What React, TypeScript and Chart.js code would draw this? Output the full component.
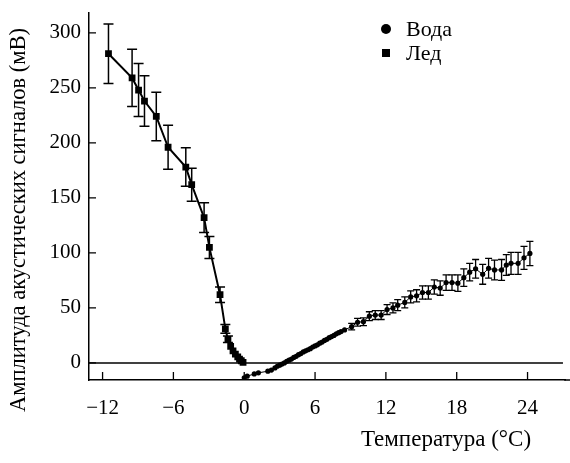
import React, { useEffect, useRef } from "react";
import { Chart, registerables } from "chart.js";

Chart.register(...registerables);

// Лед (ice)
const iceT = [-11.5, -9.5, -8.95, -8.45, -7.45, -6.45, -4.95, -4.45, -3.4, -2.95, -2.05, -1.6, -1.38, -1.15, -0.95, -0.75, -0.55, -0.4, -0.25, -0.1];
const iceAmp = [281, 259, 248, 238, 224, 196, 178, 162, 132, 105, 62, 31, 21.5, 15, 11, 8, 5.5, 3.5, 2, 0.5];
const iceErr = [27, 26, 24, 23, 22, 20, 17.5, 15, 13.5, 10, 7, 4, 3, 0, 0, 0, 0, 0, 0, 0];

// Вода (water)
const waterT = [0, 0.25, 0.85, 1.2, 2.0, 2.3, 2.6, 2.8, 3.0, 3.2, 3.4, 3.6, 3.8, 4.0, 4.2, 4.4, 4.6, 4.8, 5.0, 5.2, 5.4, 5.6, 5.8, 6.0, 6.2, 6.4, 6.6, 6.8, 7.0, 7.2, 7.4, 7.6, 7.8, 8.0, 8.2, 8.5,
  9.1, 9.6, 10.1, 10.6, 11.1, 11.6, 12.1, 12.6, 13.0, 13.6, 14.1, 14.6, 15.1, 15.6, 16.1, 16.6, 17.1, 17.6, 18.1, 18.6, 19.1, 19.6, 20.2, 20.7, 21.2, 21.8, 22.2, 22.6, 23.2, 23.7, 24.2];
const waterAmp = [-13.5, -12, -10, -9, -7.5, -6.5, -4.5, -3, -2, -1, 0, 1.5, 2.5, 3.5, 5, 6, 7.5, 8.5, 10, 11, 12, 13, 14.5, 15.5, 16.5, 18, 19, 20.5, 21.5, 23, 24, 25, 26.5, 27.5, 28.5, 30,
  33, 37, 37.5, 42.5, 43.5, 43.5, 48.5, 50, 52.5, 55, 60, 61, 64, 64, 69, 68, 73, 73, 72.5, 77.5, 82.5, 85.5, 80.5, 86, 84.5, 84.5, 89, 90.5, 90.5, 95.5, 99.5];
const waterErr = [0, 0, 0, 0, 0, 0, 0, 0, 0, 0, 0, 0, 0, 0, 0, 0, 0, 0, 0, 0, 0, 0, 0, 0, 0, 0, 0, 0, 0, 0, 0, 0, 0, 0, 0, 0,
  3, 3.5, 3.5, 4, 4, 4, 4.5, 4.5, 5, 5, 5.5, 5.5, 6, 6, 6.5, 6.5, 7, 7, 7.5, 8, 8, 8.5, 9, 9, 9, 9.5, 9.5, 10, 10, 10.5, 11];

const xTicks = [-12, -6, 0, 6, 12, 18, 24];
const yTicks = [0, 50, 100, 150, 200, 250, 300];

const xTitle = "Температура (°C)";
const yTitle = "Амплитуда акустических сигналов (мВ)";
const legendLabels = ["Вода", "Лед"];

const FONT = '"Liberation Serif"';

export default function App() {
  const ref = useRef<HTMLCanvasElement | null>(null);

  useEffect(() => {
    document.body.style.margin = "0";
    const canvas = ref.current;
    if (!canvas) return;
    let chart: any = null;
    let cancelled = false;

    const errs = [waterErr, iceErr];
    const capW = [3.5, 5];

    const errorBars = {
      id: "errorBars",
      afterDatasetsDraw(c: any) {
        const ctx = c.ctx;
        const xs = c.scales.x;
        const ys = c.scales.y;
        ctx.save();
        ctx.strokeStyle = "#000";
        c.data.datasets.forEach((ds: any, di: number) => {
          ctx.lineWidth = di === 1 ? 1.5 : 1.3;
          ds.data.forEach((p: any, i: number) => {
            const e = errs[di][i];
            if (!e) return;
            const x = xs.getPixelForValue(p.x);
            const yt = ys.getPixelForValue(p.y + e);
            const yb = ys.getPixelForValue(p.y - e);
            const w = capW[di];
            ctx.beginPath();
            ctx.moveTo(x, yt);
            ctx.lineTo(x, yb);
            ctx.moveTo(x - w, yt);
            ctx.lineTo(x + w, yt);
            ctx.moveTo(x - w, yb);
            ctx.lineTo(x + w, yb);
            ctx.stroke();
          });
        });
        ctx.restore();
      },
    };

    const decor = {
      id: "decor",
      afterDraw(c: any) {
        const ctx = c.ctx;
        const xs = c.scales.x;
        const ys = c.scales.y;
        const a = c.chartArea;
        ctx.save();
        ctx.strokeStyle = "#000";
        ctx.lineWidth = 1.5;
        // extend x axis line to the right edge
        ctx.beginPath();
        ctx.moveTo(a.right - 1, a.bottom);
        ctx.lineTo(c.width, a.bottom);
        ctx.stroke();
        // zero line
        const y0 = ys.getPixelForValue(0);
        ctx.beginPath();
        ctx.moveTo(a.left, y0);
        ctx.lineTo(xs.getPixelForValue(27), y0);
        ctx.stroke();
        // inward tick marks
        ctx.lineWidth = 1.3;
        ctx.beginPath();
        yTicks.forEach((v) => {
          const y = ys.getPixelForValue(v);
          ctx.moveTo(a.left, y);
          ctx.lineTo(a.left + 7, y);
        });
        xTicks.forEach((v) => {
          const x = xs.getPixelForValue(v);
          ctx.moveTo(x, a.bottom);
          ctx.lineTo(x, a.bottom - 8);
        });
        ctx.stroke();
        // axis titles
        ctx.fillStyle = "#000";
        ctx.font = `23px ${FONT}`;
        ctx.textAlign = "center";
        ctx.textBaseline = "middle";
        ctx.fillText(xTitle, 446, 440);
        ctx.font = `22.5px ${FONT}`;
        ctx.save();
        ctx.translate(19, 220);
        ctx.rotate(-Math.PI / 2);
        ctx.fillText(yTitle, 0, 0);
        ctx.restore();
        // legend
        ctx.font = `22px ${FONT}`;
        ctx.textAlign = "left";
        ctx.beginPath();
        ctx.arc(386, 29, 5, 0, Math.PI * 2);
        ctx.fill();
        ctx.fillRect(382, 49, 8, 8);
        ctx.fillText(legendLabels[0], 406, 30);
        ctx.fillText(legendLabels[1], 406, 54);
        ctx.restore();
      },
    };

    const build = () => {
      if (cancelled) return;
      chart = new Chart(canvas, {
        type: "scatter",
        data: {
          datasets: [
            {
              label: legendLabels[0],
              data: waterT.map((t, i) => ({ x: t, y: waterAmp[i] })),
              showLine: true,
              borderColor: "#000",
              borderWidth: 1,
              backgroundColor: "#000",
              pointBackgroundColor: "#000",
              pointBorderWidth: 0,
              pointRadius: 2.6,
              pointStyle: "circle",
            },
            {
              label: legendLabels[1],
              data: iceT.map((t, i) => ({ x: t, y: iceAmp[i] })),
              showLine: true,
              borderColor: "#000",
              borderWidth: 2,
              backgroundColor: "#000",
              pointBackgroundColor: "#000",
              pointBorderWidth: 0,
              pointRadius: 4.8,
              pointStyle: "rect",
            },
          ],
        },
        options: {
          responsive: false,
          animation: false,
          layout: { padding: { top: 13, right: 0, left: 0, bottom: 0 } },
          plugins: { legend: { display: false }, tooltip: { enabled: false } },
          scales: {
            x: {
              type: "linear",
              min: -13.15,
              max: 27.19,
              afterBuildTicks: (s: any) => {
                s.ticks = xTicks.map((v) => ({ value: v }));
              },
              afterFit: (s: any) => {
                s.height = 83;
              },
              grid: { display: false, drawTicks: false },
              border: { display: true, color: "#000", width: 1.5 },
              ticks: {
                color: "#000",
                padding: 16,
                font: { family: FONT, size: 21 },
                callback: (v: any) => (Number(v) < 0 ? "\u2212" + Math.abs(Number(v)) : String(v)),
              },
            },
            y: {
              type: "linear",
              min: -15.5,
              max: 318,
              afterBuildTicks: (s: any) => {
                s.ticks = yTicks.map((v) => ({ value: v }));
              },
              afterFit: (s: any) => {
                s.width = 89;
              },
              grid: { display: false, drawTicks: false },
              border: { display: true, color: "#000", width: 1.5 },
              ticks: {
                color: "#000",
                padding: 8,
                font: { family: FONT, size: 21, lineHeight: 0.45 },
              },
            },
          },
        },
        plugins: [errorBars, decor],
      });
    };

    const fonts: any = (document as any).fonts;
    if (fonts && fonts.load) {
      Promise.all([fonts.load('20px "Liberation Serif"', "0123456789Ам")])
        .catch(() => null)
        .then(build);
    } else {
      build();
    }
    return () => {
      cancelled = true;
      if (chart) chart.destroy();
    };
  }, []);

  return (
    <div style={{ width: 570, height: 463 }}>
      <canvas ref={ref} width={570} height={463} style={{ display: "block" }} />
    </div>
  );
}
